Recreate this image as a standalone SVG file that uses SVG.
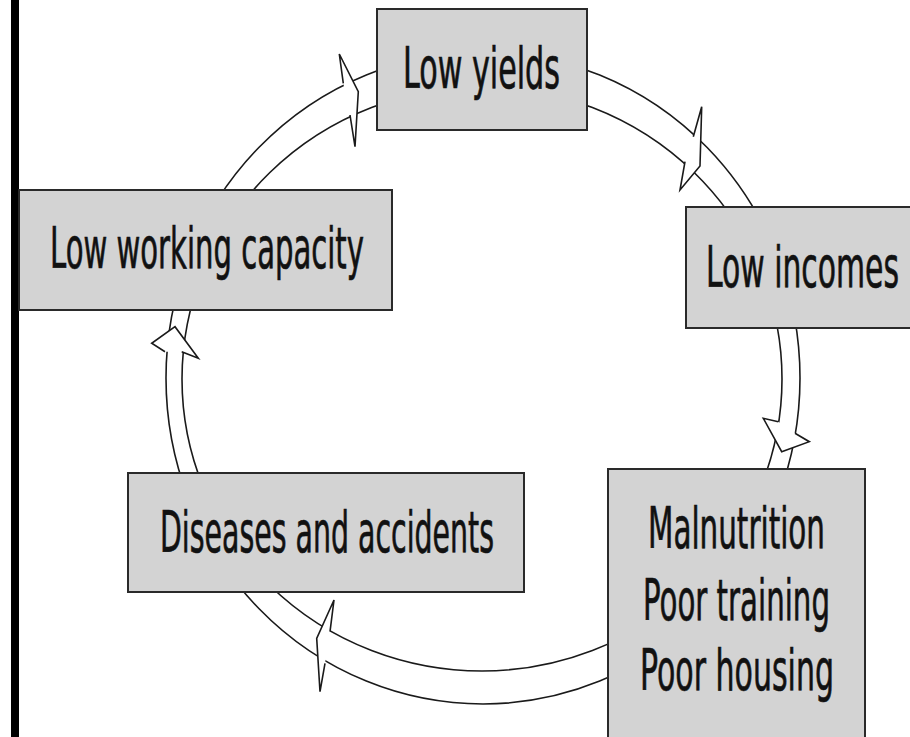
<svg xmlns="http://www.w3.org/2000/svg" width="910" height="737" viewBox="0 0 910 737">
<style>
.box{fill:#d3d3d3;stroke:#2a2a2a;stroke-width:2}
.lbl{font-family:"Liberation Sans Narrow","DejaVu Sans Condensed","Liberation Sans",Arial,sans-serif;font-size:57px;fill:#111;stroke:#111;stroke-width:0.7;text-anchor:middle}
.ring{fill:none;stroke:#1a1a1a;stroke-width:1.6}
.head{fill:#fff;stroke:#1a1a1a;stroke-width:1.6;stroke-linejoin:miter}
</style>
<rect width="910" height="737" fill="#fff"/>
<rect x="11" y="0" width="8" height="737" fill="#000"/>
<g id="connectors">
<ellipse class="ring" cx="483" cy="378" rx="317" ry="326"/>
<ellipse class="ring" cx="482" cy="379" rx="300" ry="292"/>
<path class="head" d="M343.3,83.3 L339.3,54 L358.3,91.7 L355,146.7 L350,115"/>
<path class="head" d="M693.3,136.7 L701.7,106.7 L700,166 L680,190 L685,161.7"/>
<path class="head" d="M795,433.3 L809.3,441.7 L781.7,451.7 L763.3,418.3 L778.3,421.7"/>
<path class="head" d="M330,631.7 L334,600 L316.7,638.3 L320,691.7 L325,663.3"/>
<path class="head" d="M165,351.7 L151.7,343.3 L175,326.7 L198.3,358.3 L181.7,351.7"/>
</g>
<g id="low-yields">
<rect class="box" x="377" y="9" width="210" height="121"/>
<text class="lbl" x="481.5" y="88" textLength="157" lengthAdjust="spacingAndGlyphs">Low yields</text>
</g>
<g id="low-working-capacity">
<rect class="box" x="19" y="190" width="373" height="120"/>
<text class="lbl" x="207" y="268" textLength="314" lengthAdjust="spacingAndGlyphs">Low working capacity</text>
</g>
<g id="low-incomes">
<rect class="box" x="686" y="207" width="240" height="121"/>
<text class="lbl" x="802.5" y="287" textLength="193" lengthAdjust="spacingAndGlyphs">Low incomes</text>
</g>
<g id="diseases-and-accidents">
<rect class="box" x="128" y="473" width="396" height="119"/>
<text class="lbl" x="327" y="552" textLength="334" lengthAdjust="spacingAndGlyphs">Diseases and accidents</text>
</g>
<g id="malnutrition">
<rect class="box" x="608" y="469" width="257" height="290"/>
<text class="lbl" x="736.5" y="548" textLength="177" lengthAdjust="spacingAndGlyphs">Malnutrition</text>
<text class="lbl" x="736.5" y="620" textLength="187" lengthAdjust="spacingAndGlyphs">Poor training</text>
<text class="lbl" x="737" y="690" textLength="194" lengthAdjust="spacingAndGlyphs">Poor housing</text>
</g>
</svg>
